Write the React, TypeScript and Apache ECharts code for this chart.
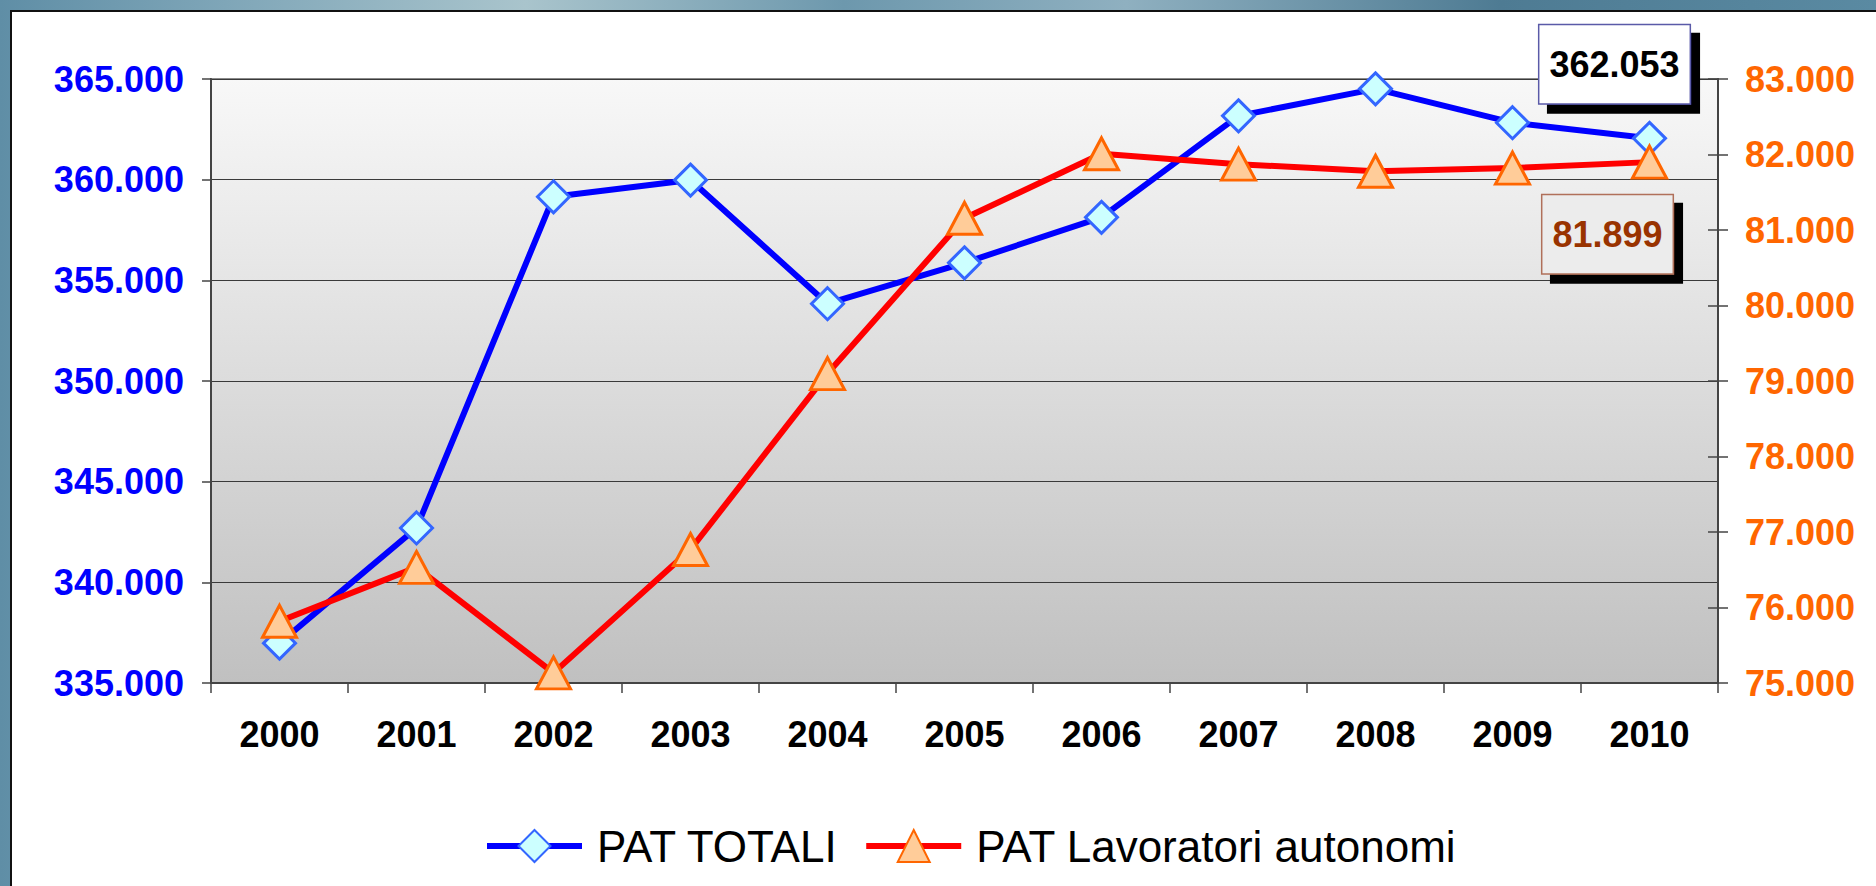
import React, { useEffect, useRef } from "react";
import * as echarts from "echarts";

const years = ["2000", "2001", "2002", "2003", "2004", "2005", "2006", "2007", "2008", "2009", "2010"];
const patTotali = [336980, 342700, 359150, 359980, 353840, 355870, 358130, 363170, 364510, 362830, 362053];
const patAutonomi = [75817, 76531, 75134, 76768, 79098, 81155, 82009, 81872, 81778, 81820, 81899];
const seriesNames = ["PAT TOTALI", "PAT Lavoratori autonomi"];
const leftMin = 335000;
const leftMax = 365000;
const leftStep = 5000;
const rightMin = 75000;
const rightMax = 83000;
const rightStep = 1000;

const FONT = '"Liberation Sans", Arial, sans-serif';

const fmt = (v: number) => String(Math.round(v)).replace(/\B(?=(\d{3})+(?!\d))/g, ".");

export default function App() {
  const ref = useRef<HTMLDivElement>(null);

  useEffect(() => {
    if (!ref.current) return;
    const chart = echarts.init(ref.current, undefined, { renderer: "svg" });
    const last = years.length - 1;

    const totData = patTotali.map((v, i) =>
      i === last
        ? {
            value: v,
            label: {
              show: true,
              position: "inside",
              offset: [-35, -74],
              formatter: (p: any) => fmt(p.value),
              color: "#000",
              fontSize: 36,
              fontWeight: "bold",
              fontFamily: FONT,
              lineHeight: 38,
              backgroundColor: "#ffffff",
              borderColor: "#5a5aa8",
              borderWidth: 1.5,
              padding: [18, 10, 22, 10],
              shadowColor: "#000",
              shadowBlur: 0,
              shadowOffsetX: 9,
              shadowOffsetY: 9,
            },
          }
        : v
    );

    const autData = patAutonomi.map((v, i) =>
      i === last
        ? {
            value: v,
            label: {
              show: true,
              position: "inside",
              offset: [-42, 72],
              formatter: (p: any) => fmt(p.value),
              color: "#993300",
              fontSize: 36,
              fontWeight: "bold",
              fontFamily: FONT,
              lineHeight: 38,
              backgroundColor: "#ececec",
              borderColor: "#b0705a",
              borderWidth: 1.5,
              padding: [18, 10, 22, 10],
              shadowColor: "#000",
              shadowBlur: 0,
              shadowOffsetX: 9,
              shadowOffsetY: 9,
            },
          }
        : v
    );

    chart.setOption({
      animation: false,
      grid: {
        left: 211,
        top: 79,
        width: 1507,
        height: 604,
        show: true,
        borderColor: "#8a8a8a",
        borderWidth: 2,
        backgroundColor: {
          type: "linear",
          x: 0,
          y: 0,
          x2: 0,
          y2: 1,
          colorStops: [
            { offset: 0, color: "#f8f8f8" },
            { offset: 1, color: "#c0c0c0" },
          ],
        },
      },
      legend: {
        left: 479,
        top: 819,
        itemWidth: 95,
        itemHeight: 40,
        itemGap: 25,
        data: seriesNames,
        lineStyle: { width: 6 },
        textStyle: { fontSize: 44, fontFamily: FONT, color: "#000", padding: [0, 0, 0, 10] },
      },
      xAxis: {
        type: "category",
        data: years,
        boundaryGap: true,
        axisLine: { lineStyle: { color: "#444", width: 2 } },
        axisTick: { show: true, length: 10, lineStyle: { color: "#444", width: 1.5 } },
        axisLabel: { color: "#000", fontSize: 36, fontWeight: "bold", fontFamily: FONT, margin: 33 },
      },
      yAxis: [
        {
          type: "value",
          position: "left",
          min: leftMin,
          max: leftMax,
          interval: leftStep,
          axisLine: { show: true, lineStyle: { color: "#444", width: 2 } },
          axisTick: { show: true, length: 9, lineStyle: { color: "#444", width: 1.5 } },
          splitLine: { show: true, lineStyle: { color: "#3a3a3a", width: 1.2 } },
          axisLabel: {
            color: "#0000ff",
            fontSize: 36,
            fontWeight: "bold",
            fontFamily: FONT,
            margin: 27,
            formatter: (v: number) => fmt(v),
          },
        },
        {
          type: "value",
          position: "right",
          min: rightMin,
          max: rightMax,
          interval: rightStep,
          axisLine: { show: true, lineStyle: { color: "#444", width: 2 } },
          axisTick: { show: true, length: 10, lineStyle: { color: "#444", width: 1.5 } },
          splitLine: { show: false },
          axisLabel: {
            color: "#ff6600",
            fontSize: 36,
            fontWeight: "bold",
            fontFamily: FONT,
            margin: 27,
            formatter: (v: number) => fmt(v),
          },
        },
        {
          type: "value",
          position: "right",
          min: rightMin,
          max: rightMax,
          interval: rightStep,
          axisLine: { show: false },
          axisTick: { show: true, inside: true, length: 10, lineStyle: { color: "#444", width: 1.5 } },
          splitLine: { show: false },
          axisLabel: { show: false },
        },
      ],
      series: [
        {
          name: seriesNames[0],
          type: "line",
          yAxisIndex: 0,
          data: totData,
          symbol: "diamond",
          symbolSize: [32, 32],
          lineStyle: { color: "#0000ff", width: 6 },
          itemStyle: { color: "#ccffff", borderColor: "#3366ff", borderWidth: 3 },
          label: { show: false },
          emphasis: { disabled: true },
          z: 2,
        },
        {
          name: seriesNames[1],
          type: "line",
          yAxisIndex: 1,
          data: autData,
          symbol: "triangle",
          symbolSize: [34, 32],
          lineStyle: { color: "#ff0000", width: 6 },
          itemStyle: { color: "#ffcc99", borderColor: "#ff6600", borderWidth: 3 },
          label: { show: false },
          emphasis: { disabled: true },
          z: 3,
        },
      ],
    });

    return () => chart.dispose();
  }, []);

  return (
    <div
      style={{
        position: "fixed",
        left: 0,
        top: 0,
        width: 1876,
        height: 886,
        overflow: "hidden",
        background:
          "linear-gradient(90deg, #5f8ea6 0%, #7fa6b8 12%, #a9c4cc 28%, #6d98ad 45%, #8fb0c0 60%, #4e7b93 80%, #5a8aa2 100%)",
      }}
    >
      <div
        style={{
          position: "absolute",
          left: 10,
          top: 10,
          width: 1880,
          height: 890,
          background: "#ffffff",
          borderLeft: "2px solid #111",
          borderTop: "2px solid #111",
        }}
      />
      <div ref={ref} style={{ position: "absolute", left: 0, top: 0, width: 1876, height: 886 }} />
    </div>
  );
}
